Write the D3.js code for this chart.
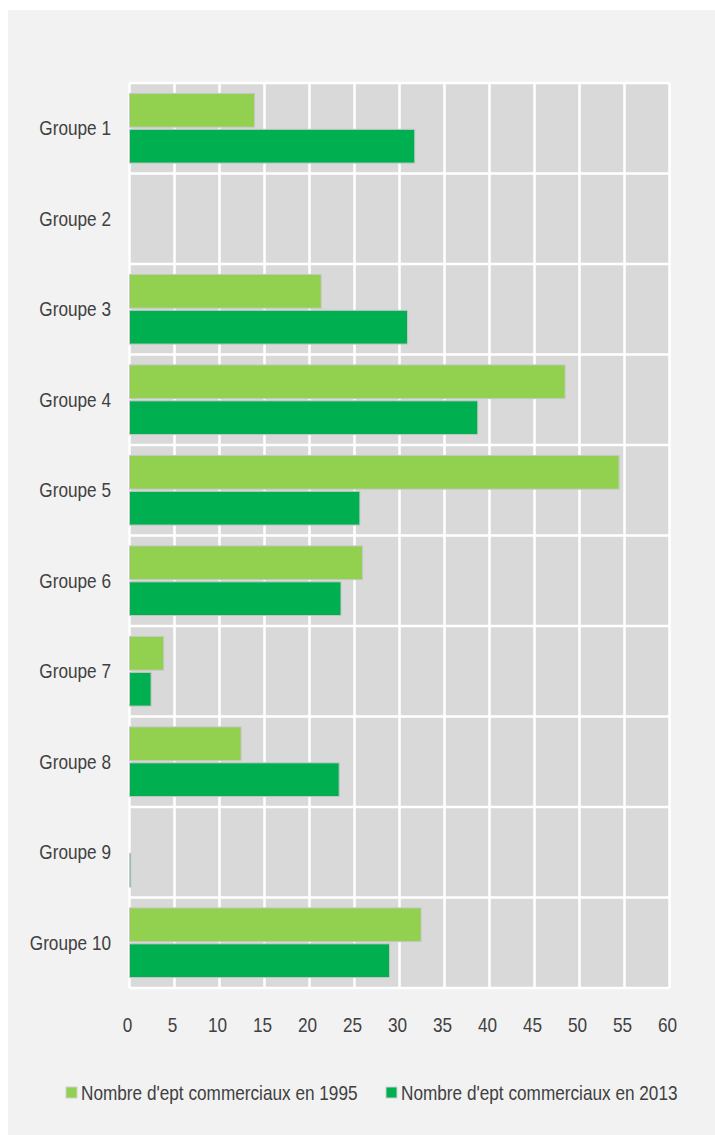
<!DOCTYPE html>
<html lang="fr">
<head>
<meta charset="utf-8" />
<title>Nombre d'ept commerciaux</title>
<style>
html, body {
  margin: 0;
  padding: 0;
  background: #fff;
}
svg text {
  font-family: "Liberation Sans", Arial, sans-serif;
  fill: #404040;
}
</style>
</head>
<body>
<svg id="chart" width="715" height="1135"></svg>
<script src="https://cdnjs.cloudflare.com/ajax/libs/d3/7.8.5/d3.min.js"></script>
<script>

var groupes = ["Groupe 1", "Groupe 2", "Groupe 3", "Groupe 4", "Groupe 5",
               "Groupe 6", "Groupe 7", "Groupe 8", "Groupe 9", "Groupe 10"];
var series = ["Nombre d'ept commerciaux en 1995", "Nombre d'ept commerciaux en 2013"];
var val1995 = [13.9, 0, 21.3, 48.4, 54.4, 25.9, 3.8, 12.4, 0, 32.4];
var val2013 = [31.7, 0, 30.9, 38.7, 25.6, 23.5, 2.4, 23.3, 0.15, 28.9];
var xTicks = [0, 5, 10, 15, 20, 25, 30, 35, 40, 45, 50, 55, 60];

var colors = ["#92d050", "#00b050"];
var narrow = 0.86;   // pas d'Arial Narrow installée : on compresse

var svg = d3.select("#chart");

// fond gris clair
svg.append("rect")
  .attr("x", 8).attr("y", 10)
  .attr("width", 707).attr("height", 1125)
  .attr("fill", "#f2f2f2");

var plot = {left: 129.5, right: 669.5, top: 83, bottom: 988};

var x = d3.scaleLinear().domain([0, 60]).range([plot.left, plot.right]);
var y = d3.scaleBand().domain(groupes).range([plot.top, plot.bottom]);
var sub = d3.scaleBand().domain(series).range([0, y.bandwidth()])
  .paddingInner(0.06).paddingOuter(0.29);

function label(parent, tx, ty, anchor, txt) {
  return parent.append("text")
    .attr("transform", "translate(" + tx + "," + ty + ") scale(" + narrow + ",1)")
    .attr("dy", "0.35em")
    .attr("text-anchor", anchor)
    .attr("font-size", 20)
    .text(txt);
}

// zone du graphique
svg.append("rect")
  .attr("x", plot.left).attr("y", plot.top)
  .attr("width", plot.right - plot.left).attr("height", plot.bottom - plot.top)
  .attr("fill", "#d9d9d9");

// grille
var grid = svg.append("g").attr("stroke", "#fff").attr("stroke-width", 2.5);
grid.selectAll("line.v")
  .data(xTicks)
  .enter().append("line")
  .attr("class", "v")
  .attr("x1", function(d) { return x(d); })
  .attr("x2", function(d) { return x(d); })
  .attr("y1", plot.top).attr("y2", plot.bottom);
grid.selectAll("line.h")
  .data(groupes.concat(["fin"]))
  .enter().append("line")
  .attr("class", "h")
  .attr("x1", plot.left).attr("x2", plot.right)
  .attr("y1", function(d, i) { return plot.top + i * y.step(); })
  .attr("y2", function(d, i) { return plot.top + i * y.step(); });

// barres
var rows = groupes.map(function(g, i) {
  return {groupe: g, values: [val1995[i], val2013[i]]};
});

var rowG = svg.selectAll("g.row")
  .data(rows)
  .enter().append("g")
  .attr("class", "row")
  .attr("transform", function(d) { return "translate(0," + y(d.groupe) + ")"; });

rowG.selectAll("rect")
  .data(function(d) {
    return d.values.map(function(v, k) { return {serie: series[k], v: v, k: k}; });
  })
  .enter().append("rect")
  .filter(function(d) { return d.v > 0; })
  .attr("x", x(0))
  .attr("y", function(d) { return sub(d.serie); })
  .attr("width", function(d) { return x(d.v) - x(0); })
  .attr("height", sub.bandwidth())
  .attr("fill", function(d) { return colors[d.k]; })
  .attr("stroke", "#c8c8c8")
  .attr("stroke-width", 1);

// libellés des groupes
var yLab = svg.append("g");
groupes.forEach(function(g) {
  label(yLab, 111, y(g) + y.bandwidth() / 2, "end", g);
});

// axe x (étiquettes seulement)
var xAxis = svg.append("g");
xTicks.forEach(function(t) {
  label(xAxis, x(t) - 2, 1025, "middle", t);
});

// légende
var legend = svg.append("g").attr("transform", "translate(0,1093)");
var legX = [66, 386];
series.forEach(function(s, k) {
  legend.append("rect")
    .attr("x", legX[k]).attr("y", -6)
    .attr("width", 11).attr("height", 11)
    .attr("fill", colors[k])
    .attr("stroke", "#d0d0d0");
  label(legend, legX[k] + 15, 0, "start", s);
});
</script>
</body>
</html>
